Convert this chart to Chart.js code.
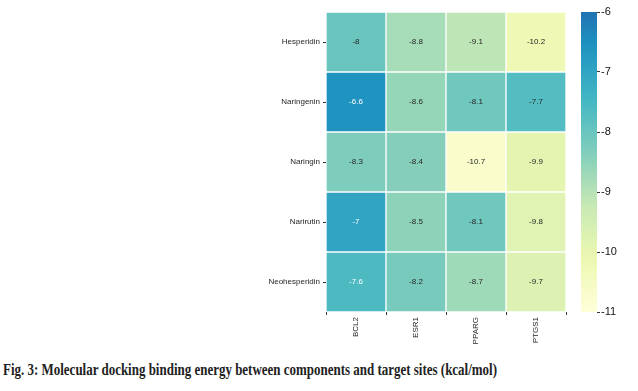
<!DOCTYPE html>
<html>
<head>
<meta charset="utf-8">
<script src="https://cdn.jsdelivr.net/npm/chart.js@4.4.1/dist/chart.umd.min.js"></script>
<style>
  html, body { margin: 0; padding: 0; background: #fff; }
  #wrap { position: relative; width: 638px; height: 391px; overflow: hidden; }
  #heat { position: absolute; left: 0; top: 0; }
  #cbar { position: absolute; left: 560px; top: 0; }
  #caption {
    position: absolute; left: 3px; top: 361px; white-space: nowrap;
    font: bold 17px/17px "Liberation Serif", "Times New Roman", serif; color: #222;
    transform-origin: 0 0;
  }
</style>
</head>
<body>
<div id="wrap">
  <canvas id="heat" width="570" height="350"></canvas>
  <canvas id="cbar" width="78" height="350"></canvas>
  <div id="caption">Fig. 3: Molecular docking binding energy between components and target sites (kcal/mol)</div>
</div>
<script>
// Docking energies (kcal/mol), rows = compounds, columns = targets
const compounds = ['Hesperidin', 'Naringenin', 'Naringin', 'Narirutin', 'Neohesperidin'];
const targets = ['BCL2', 'ESR1', 'PPARG', 'PTGS1'];
const hesperidin = [-8, -8.8, -9.1, -10.2];
const naringenin = [-6.6, -8.6, -8.1, -7.7];
const naringin = [-8.3, -8.4, -10.7, -9.9];
const narirutin = [-7, -8.5, -8.1, -9.8];
const neohesperidin = [-7.6, -8.2, -8.7, -9.7];
const energies = [hesperidin, naringenin, naringin, narirutin, neohesperidin];
const colorbarTicks = [-6, -7, -8, -9, -10, -11];

const vmin = -11, vmax = -6;

// YlGnBu anchors (matplotlib), only the lower 70% is used here
const ylgnbu = ['#ffffd9', '#edf8b1', '#c7e9b4', '#7fcdbb', '#41b6c4', '#1d91c0', '#225ea8', '#253494', '#081d58'];
function hexRgb(h) {
  return [parseInt(h.slice(1, 3), 16), parseInt(h.slice(3, 5), 16), parseInt(h.slice(5, 7), 16)];
}
function cmap(t) {
  t = Math.max(0, Math.min(1, t)) * (ylgnbu.length - 1);
  const i = Math.min(Math.floor(t), ylgnbu.length - 2);
  const f = t - i;
  const a = hexRgb(ylgnbu[i]), b = hexRgb(ylgnbu[i + 1]);
  return 'rgb(' + a.map((v, k) => Math.round(v + (b[k] - v) * f)).join(',') + ')';
}
function colorFor(v) {
  return cmap(((v - vmin) / (vmax - vmin)) * 0.7);
}

const FONT = 'Liberation Sans, Arial, sans-serif';
const TXT = '#262626';

// draws the numbers inside each cell
const annotate = {
  id: 'annotate',
  afterDatasetsDraw(chart) {
    const ctx = chart.ctx;
    const xs = chart.scales.x, ys = chart.scales.y;
    ctx.save();
    ctx.font = '8px ' + FONT;
    ctx.textAlign = 'center';
    ctx.textBaseline = 'middle';
    energies.forEach(function (row, r) {
      row.forEach(function (v, c) {
        ctx.fillStyle = v > -7.65 ? '#ffffff' : TXT;
        ctx.fillText(String(v), xs.getPixelForValue(c), ys.getPixelForValue(r + 0.5));
      });
    });
    ctx.restore();
  },
};

new Chart(document.getElementById('heat').getContext('2d'), {
  type: 'bar',
  data: {
    labels: targets,
    datasets: energies.map(function (row, r) {
      return {
        label: compounds[r],
        data: row.map(() => [r, r + 1]),
        backgroundColor: row.map(colorFor),
        borderColor: '#ffffff',
        borderWidth: 1,
        borderSkipped: false,
        grouped: false,
        barPercentage: 1,
        categoryPercentage: 1,
      };
    }),
  },
  options: {
    responsive: false,
    animation: false,
    layout: { padding: { left: 0, top: 12, right: 4, bottom: 0 } },
    plugins: { legend: { display: false }, tooltip: { enabled: false } },
    scales: {
      x: {
        type: 'category',
        afterFit: function (s) { s.height = 38; },
        border: { display: false },
        grid: { drawOnChartArea: false, drawTicks: true, tickLength: 3, color: '#333' },
        ticks: { minRotation: 90, maxRotation: 90, padding: 2, color: TXT, font: { family: FONT, size: 8 } },
      },
      y: {
        type: 'linear',
        min: 0,
        max: compounds.length,
        reverse: true,
        afterFit: function (s) { s.width = 326; },
        afterBuildTicks: function (s) {
          s.ticks = compounds.map((_, i) => ({ value: i + 0.5 }));
        },
        border: { display: false },
        grid: { drawOnChartArea: false, drawTicks: true, tickLength: 3, color: '#333' },
        ticks: {
          padding: 3,
          color: TXT,
          font: { family: FONT, size: 8 },
          callback: function (val, i) { return compounds[i]; },
        },
      },
    },
  },
  plugins: [annotate],
});

// colour bar: one floating bar spanning the full range, filled with the colormap
new Chart(document.getElementById('cbar').getContext('2d'), {
  type: 'bar',
  data: {
    labels: [''],
    datasets: [
      {
        data: [[vmin, vmax]],
        backgroundColor: function (context) {
          const area = context.chart.chartArea;
          if (!area) return colorFor(vmax);
          const g = context.chart.ctx.createLinearGradient(0, area.bottom, 0, area.top);
          for (let k = 0; k <= 20; k++) {
            g.addColorStop(k / 20, colorFor(vmin + ((vmax - vmin) * k) / 20));
          }
          return g;
        },
        borderWidth: 0,
        barPercentage: 1,
        categoryPercentage: 1,
      },
    ],
  },
  options: {
    responsive: false,
    animation: false,
    layout: { padding: { left: 21, top: 12, right: 0, bottom: 38 } },
    plugins: { legend: { display: false }, tooltip: { enabled: false } },
    scales: {
      x: { display: false },
      y: {
        position: 'right',
        min: vmin,
        max: vmax,
        afterFit: function (s) { s.width = 41; },
        afterBuildTicks: function (s) {
          s.ticks = colorbarTicks.map((v) => ({ value: v }));
        },
        border: { display: false },
        grid: { drawOnChartArea: false, drawTicks: true, tickLength: 3, color: '#333' },
        ticks: { padding: 1, color: '#111', font: { family: FONT, size: 11 } },
      },
    },
  },
});

// fit caption to the width seen in the figure
const cap = document.getElementById('caption');
const w = cap.getBoundingClientRect().width;
cap.style.transform = 'scaleX(' + (494 / w) + ')';
</script>
</body>
</html>
